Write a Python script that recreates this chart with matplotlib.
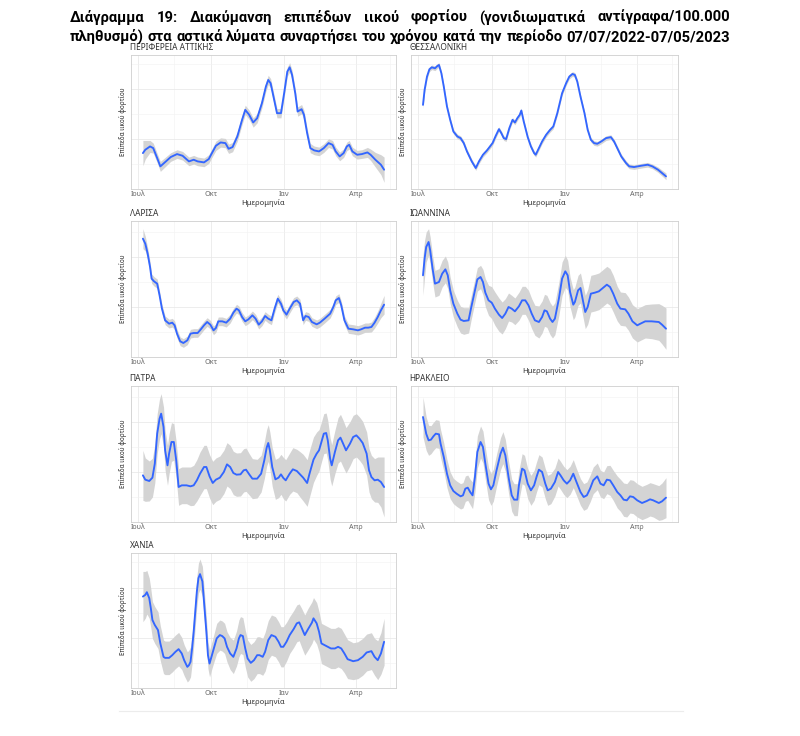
import pandas as pd
import matplotlib
matplotlib.use("Agg")
import matplotlib.pyplot as plt
import matplotlib.dates as mdates
from matplotlib.ticker import MaxNLocator, AutoMinorLocator, FuncFormatter

# Values; y is in arbitrary units (no y labels in the source)
START = pd.Timestamp("2022-07-07")

att_day = [0, 3, 9, 13, 18, 22, 29, 35, 43, 50, 58, 64, 69, 77, 83, 87, 92, 98, 104, 108, 113,
           119, 125, 129, 134, 139, 144, 150, 155, 158, 161, 165, 169, 174, 178, 182, 185, 188,
           192, 195, 200, 203, 207, 211, 216, 222, 228, 234, 239, 243, 248, 253, 257, 260, 264,
           270, 276, 283, 287, 293, 300, 304]
att_val = [108, 118, 128, 123, 93, 68, 83, 96, 105, 100, 83, 88, 83, 80, 90, 108, 130, 140, 138, 121, 126,
           158, 208, 238, 223, 200, 213, 258, 308, 328, 318, 273, 228, 228, 288, 353, 366, 343,
           288, 233, 240, 223, 168, 123, 116, 113, 123, 138, 133, 113, 98, 108, 128, 133, 113,
           103, 105, 110, 103, 88, 73, 58]
att_band = [38, 28, 18, 15, 14, 15, 14, 13, 13, 13, 13, 13, 13, 13, 13, 13, 14, 14, 14, 14, 14,
            14, 14, 14, 14, 14, 14, 14, 14, 14, 14, 14, 14, 14, 14, 14, 14, 14,
            14, 14, 14, 14, 14, 14, 13, 13, 13, 13, 13, 13, 13, 13, 13, 13, 13,
            13, 13, 15, 17, 22, 30, 38]

the_day = [0, 2, 5, 8, 11, 15, 18, 20, 23, 26, 30, 34, 38, 43, 47, 51, 55, 61, 66, 70, 75, 80, 87,
           91, 95, 98, 101, 104, 108, 112, 115, 118, 121, 123, 126, 131, 135, 139, 141, 145, 149,
           154, 159, 163, 168, 174, 179, 183, 187, 190, 193, 197, 202, 206, 210, 214, 218, 223,
           229, 235, 239, 244, 248, 254, 258, 264, 273, 281, 287, 294, 300, 304]
the_val = [253, 298, 338, 360, 366, 363, 370, 373, 348, 308, 248, 208, 173, 158, 153, 138, 113, 83, 63,
           83, 103, 116, 138, 160, 180, 168, 153, 150, 183, 208, 200, 213, 223, 236, 203, 156, 128,
           108, 103, 123, 143, 163, 178, 188, 228, 288, 318, 338, 346, 343, 323, 278, 228, 178, 148,
           138, 136, 143, 153, 156, 143, 118, 98, 78, 68, 66, 70, 73, 68, 58, 46, 38]
the_band = [10, 9, 8, 7, 7, 7, 7, 7, 7, 7, 7, 7, 7, 7, 7, 7, 7, 7, 7,
            7, 7, 7, 7, 7, 7, 7, 7, 7, 7, 7, 7, 7, 7, 7, 7, 7, 7,
            7, 7, 7, 7, 7, 7, 7, 7, 7, 7, 7, 7, 7, 7, 7, 7, 7, 7,
            7, 7, 7, 7, 7, 7, 7, 7, 7, 7, 7, 7, 7, 7, 8, 9, 10]

lar_day = [0, 3, 6, 9, 11, 14, 18, 21, 24, 28, 33, 37, 40, 43, 47, 51, 56, 60, 64, 69, 73, 77, 81,
           85, 89, 92, 95, 100, 105, 110, 114, 118, 121, 125, 129, 133, 138, 142, 146, 150, 154,
           158, 162, 166, 170, 174, 177, 181, 185, 190, 194, 198, 202, 205, 209, 213, 219, 223,
           229, 236, 240, 243, 247, 250, 254, 259, 265, 271, 275, 280, 284, 288, 292, 296, 300, 304]
lar_val = [355, 340, 310, 270, 235, 227, 220, 185, 145, 110, 100, 103, 95, 70, 47, 42, 50, 70, 72, 72,
           83, 95, 105, 97, 80, 87, 107, 107, 103, 115, 133, 145, 140, 120, 107, 113, 125, 115, 97,
           107, 123, 115, 110, 145, 175, 160, 140, 127, 145, 165, 170, 160, 110, 123, 120, 105, 98,
           103, 115, 130, 150, 170, 177, 155, 110, 85, 83, 80, 83, 88, 88, 90, 103, 120, 140, 157]
lar_band = [30, 22, 18, 16, 14, 14, 14, 13, 13, 13, 13, 13, 13, 13, 13, 13, 13, 13, 13, 13,
            13, 13, 13, 13, 13, 13, 13, 13, 13, 13, 13, 13, 13, 13, 13, 13, 13, 13, 13,
            13, 13, 13, 13, 13, 13, 13, 13, 13, 13, 13, 13, 13, 13, 13, 13, 13, 13,
            13, 13, 13, 13, 13, 13, 13, 13, 14, 14, 14, 14, 14, 14, 15, 16, 18, 22, 28]

ioa_day = [0, 2, 4, 7, 9, 12, 15, 20, 24, 28, 31, 34, 38, 43, 47, 51, 57, 60, 65, 68, 72, 75, 78,
           82, 86, 90, 95, 99, 103, 107, 111, 115, 120, 124, 128, 132, 136, 140, 145, 149, 152,
           155, 159, 162, 165, 170, 174, 178, 181, 184, 188, 190, 194, 197, 200, 203, 206, 210,
           215, 220, 224, 230, 234, 238, 243, 247, 253, 257, 262, 268, 272, 278, 286, 295, 299, 304]
ioa_val = [245, 295, 330, 345, 320, 265, 220, 225, 250, 263, 245, 200, 160, 130, 112, 108, 110, 145,
           200, 233, 240, 225, 193, 170, 163, 145, 127, 117, 130, 150, 145, 137, 152, 170, 170, 155,
           130, 110, 105, 120, 140, 137, 115, 105, 115, 175, 235, 257, 245, 195, 157, 165, 200, 207,
           170, 135, 150, 190, 193, 197, 205, 217, 210, 190, 160, 145, 143, 130, 107, 95, 100, 107,
           107, 105, 97, 85]
ioa_band = [60, 55, 45, 40, 40, 40, 40, 40, 40, 40, 40, 40, 40, 40, 40, 40, 38, 36,
            35, 35, 35, 38, 42, 45, 48, 50, 50, 48, 45, 42, 40, 40, 42, 42, 42, 45,
            45, 45, 48, 48, 48, 48, 48, 48, 48, 50, 50, 48, 45, 45, 45, 45, 45, 45,
            48, 50, 52, 55, 55, 55, 55, 55, 55, 55, 52, 50, 50, 50, 50, 50, 50, 50,
            52, 55, 58, 62]

pat_day = [0, 3, 8, 12, 15, 18, 21, 23, 26, 28, 31, 33, 36, 39, 42, 45, 49, 55, 60, 64, 68, 72, 77,
           80, 84, 88, 92, 97, 102, 106, 110, 114, 118, 123, 127, 130, 134, 138, 144, 149, 153,
           156, 158, 160, 163, 167, 171, 174, 177, 180, 185, 189, 194, 198, 202, 207, 210, 215,
           219, 222, 225, 228, 231, 233, 236, 238, 242, 246, 249, 252, 256, 261, 265, 269, 273,
           277, 282, 285, 288, 292, 296, 300, 304]
pat_val = [140, 127, 123, 133, 175, 265, 310, 325, 285, 215, 170, 205, 240, 240, 185, 105, 110, 110,
           107, 110, 125, 145, 165, 165, 137, 117, 127, 133, 150, 173, 165, 147, 142, 143, 155, 157,
           143, 130, 130, 145, 185, 223, 237, 215, 165, 128, 133, 143, 132, 125, 145, 158, 153, 143,
           133, 117, 145, 187, 205, 215, 240, 265, 267, 245, 190, 170, 210, 245, 253, 237, 215, 235,
           255, 260, 250, 237, 205, 155, 135, 125, 127, 120, 105]
pat_band = [75, 65, 60, 58, 58, 60, 60, 60, 60, 60, 60, 60, 58, 55, 55, 55, 55, 55,
            58, 60, 62, 65, 65, 65, 65, 65, 65, 65, 65, 65, 65, 65, 65, 65, 65, 65,
            62, 60, 58, 55, 55, 55, 55, 55, 58, 60, 60, 60, 62, 62, 62, 65, 65, 68,
            70, 70, 70, 68, 65, 62, 60, 60, 60, 60, 62, 62, 65, 68, 70, 70, 68, 66,
            65, 65, 65, 65, 65, 65, 65, 65, 68, 75, 90]

her_day = [0, 2, 4, 7, 10, 13, 16, 20, 22, 26, 30, 34, 38, 42, 47, 50, 53, 56, 59, 62, 65, 68, 72,
           75, 78, 82, 85, 88, 92, 97, 100, 103, 107, 111, 114, 118, 120, 124, 127, 131, 135, 139,
           142, 145, 149, 153, 156, 160, 165, 169, 172, 176, 180, 184, 188, 192, 197, 201, 205,
           209, 213, 218, 222, 226, 230, 234, 238, 243, 247, 251, 255, 259, 263, 268, 274, 280,
           284, 288, 295, 299, 304]
her_val = [315, 290, 265, 245, 247, 257, 265, 263, 235, 195, 145, 110, 93, 85, 77, 80, 100, 103, 90,
           80, 135, 210, 240, 225, 175, 115, 98, 110, 155, 205, 223, 200, 135, 80, 67, 67, 110, 160,
           155, 115, 95, 110, 135, 157, 150, 115, 95, 100, 120, 150, 140, 125, 115, 125, 145, 120,
           90, 75, 80, 100, 125, 137, 115, 110, 127, 125, 110, 90, 80, 67, 65, 77, 75, 65, 57, 63,
           68, 65, 57, 62, 73]
her_band = [60, 55, 50, 45, 42, 42, 42, 42, 42, 42, 42, 40, 38, 38, 38, 38, 38, 38, 38,
            40, 45, 48, 48, 48, 48, 48, 48, 48, 48, 48, 48, 48, 48, 48, 48, 48, 45, 45,
            45, 45, 45, 45, 45, 45, 45, 45, 45, 45, 42, 42, 42, 42, 42, 42, 42, 40,
            40, 40, 40, 40, 40, 40, 40, 40, 42, 45, 45, 48, 48, 50, 50, 50, 50, 50, 50, 50,
            50, 50, 52, 55, 60]

cha_day = [0, 3, 5, 8, 10, 12, 15, 19, 22, 26, 28, 33, 37, 41, 45, 49, 52, 56, 58, 60, 62, 64, 66,
           68, 70, 72, 75, 77, 80, 82, 84, 87, 90, 93, 97, 100, 103, 106, 110, 114, 118, 121, 123,
           126, 129, 132, 136, 140, 144, 147, 151, 154, 158, 162, 167, 171, 174, 177, 181, 185,
           190, 194, 197, 200, 204, 208, 213, 215, 219, 222, 225, 229, 233, 237, 242, 246, 250,
           254, 258, 265, 271, 277, 282, 288, 292, 296, 300, 304]
cha_val = [273, 278, 286, 268, 238, 203, 188, 173, 133, 93, 90, 90, 98, 108, 116, 103, 83, 63, 68, 78,
           118, 168, 228, 288, 328, 340, 318, 258, 168, 98, 73, 98, 123, 148, 158, 155, 148, 123,
           103, 93, 118, 148, 158, 155, 118, 88, 75, 83, 98, 98, 93, 108, 143, 158, 153, 138, 123,
           123, 138, 158, 176, 193, 196, 180, 158, 175, 195, 208, 193, 168, 133, 128, 123, 118, 118,
           123, 118, 103, 86, 80, 83, 93, 106, 110, 93, 83, 103, 138]
cha_band = [75, 70, 65, 60, 58, 55, 55, 55, 52, 50, 50, 50, 50, 50, 50, 48, 46, 45, 45, 45,
            45, 45, 45, 45, 45, 45, 45, 45, 42, 40, 40, 40, 42, 45, 45, 45, 45, 45,
            48, 50, 52, 55, 55, 55, 55, 55, 55, 55, 55, 55, 55, 58, 58, 60, 60, 60, 60,
            60, 58, 55, 55, 55, 55, 58, 60, 62, 62, 62, 62, 60, 60, 60, 60, 60, 60,
            60, 60, 58, 58, 55, 55, 55, 55, 55, 55, 58, 62, 70]

titles = ["ΠΕΡΙΦΕΡΕΙΑ ΑΤΤΙΚΗΣ", "ΘΕΣΣΑΛΟΝΙΚΗ", "ΛΑΡΙΣΑ", "ΙΩΑΝΝΙΝΑ",
          "ΠΑΤΡΑ", "ΗΡΑΚΛΕΙΟ", "ΧΑΝΙΑ"]
series = [(att_day, att_val, att_band), (the_day, the_val, the_band),
          (lar_day, lar_val, lar_band), (ioa_day, ioa_val, ioa_band),
          (pat_day, pat_val, pat_band), (her_day, her_val, her_band),
          (cha_day, cha_val, cha_band)]
month_names = {1: "Ιαν", 4: "Απρ", 7: "Ιουλ", 10: "Οκτ"}

title_1 = "Διάγραμμα 19: Διακύμανση επιπέδων ιικού φορτίου (γονιδιωματικά αντίγραφα/100.000"
title_2 = "πληθυσμό) στα αστικά λύματα συναρτήσει του χρόνου κατά την περίοδο 07/07/2022-07/05/2023"

W, H = 800, 736
plt.rcParams['font.family'] = ['Noto Sans', 'DejaVu Sans']
TITLE_FONT = ['Roboto', 'DejaVu Sans']

# axes frames in pixels: left, top, right, bottom ; plus y-range of the frame
frames = [(131, 55, 396, 189, 403), (411, 55, 678, 189, 403),
          (131, 221, 396, 357, 408), (411, 221, 678, 357, 408),
          (131, 386, 396, 522, 408), (411, 386, 678, 522, 408),
          (131, 553, 396, 688, 403)]

fig = plt.figure(figsize=(W / 100, H / 100), dpi=100)
fig.patch.set_facecolor('white')

month_fmt = FuncFormatter(lambda x, pos: month_names.get(mdates.num2date(x).month, ""))

for (l, t, r, b, ytop), name, (days, vals, band) in zip(frames, titles, series):
    ax = fig.add_axes([l / W, 1 - b / H, (r - l) / W, (b - t) / H])
    dates = START + pd.to_timedelta(days, unit='D')
    lo = [v - s for v, s in zip(vals, band)]
    hi = [v + s for v, s in zip(vals, band)]
    ax.fill_between(dates, lo, hi, color='#d4d4d4', lw=0, zorder=2)
    ax.plot(dates, vals, color='#3366FF', lw=1.35, zorder=3, solid_capstyle='round')

    ax.set_xlim(START - pd.Timedelta(days=15), START + pd.Timedelta(days=319))
    ax.set_ylim(0, ytop)
    ax.xaxis.set_major_locator(mdates.MonthLocator(bymonth=[1, 4, 7, 10]))
    ax.xaxis.set_minor_locator(mdates.MonthLocator(bymonth=[2, 5, 8, 11], bymonthday=15))
    ax.xaxis.set_major_formatter(month_fmt)
    ax.yaxis.set_major_locator(MaxNLocator(4))
    ax.yaxis.set_minor_locator(AutoMinorLocator(2))
    ax.grid(True, which='major', color='#e6e6e6', lw=0.5, zorder=0)
    ax.grid(True, which='minor', color='#f2f2f2', lw=0.4, zorder=0)
    ax.tick_params(axis='x', which='both', length=0, pad=1.5, labelsize=5.2, labelcolor='#666666')
    ax.tick_params(axis='y', which='both', length=0, labelleft=False)
    for sp in ax.spines.values():
        sp.set_color('#cfcfcf')
        sp.set_linewidth(0.6)
    ax.set_xlabel("Ημερομηνία", fontsize=5.5, color='#333333', labelpad=0.5)
    ax.text(-8 / (r - l), 0.5, "Επίπεδα ιικού φορτίου", rotation=90, ha='center', va='center',
            fontsize=4.6, color='#222222', transform=ax.transAxes)
    ax.annotate(name, xy=(0, 1), xycoords='axes fraction', xytext=(-1, 2.5),
                textcoords='offset points', ha='left', va='bottom', fontsize=6, color='#333333')

# faint rule under the figure block
fig.add_artist(plt.Line2D([119 / W, 683 / W], [1 - 711 / H, 1 - 711 / H], color='#ececec', lw=0.8))

# justified two-line bold title
renderer = fig.canvas.get_renderer()
x0, x1 = 70, 730
probe = fig.text(0, 0, title_2, fontsize=10, fontweight='bold', family=TITLE_FONT)
fs = 10 * (x1 - x0) / probe.get_window_extent(renderer).width
probe.remove()


def justify(line, ybase):
    words = line.split(" ")
    items = [fig.text(0, 1 - ybase / H, w, fontsize=fs, fontweight='bold', va='baseline',
                      color='black', family=TITLE_FONT) for w in words]
    widths = [it.get_window_extent(renderer).width for it in items]
    gap = (x1 - x0 - sum(widths)) / (len(words) - 1)
    x = x0
    for it, w in zip(items, widths):
        it.set_x(x / W)
        x += w + gap


justify(title_1, 22)
justify(title_2, 41)

fig.savefig("out.png", dpi=100, facecolor='white')
